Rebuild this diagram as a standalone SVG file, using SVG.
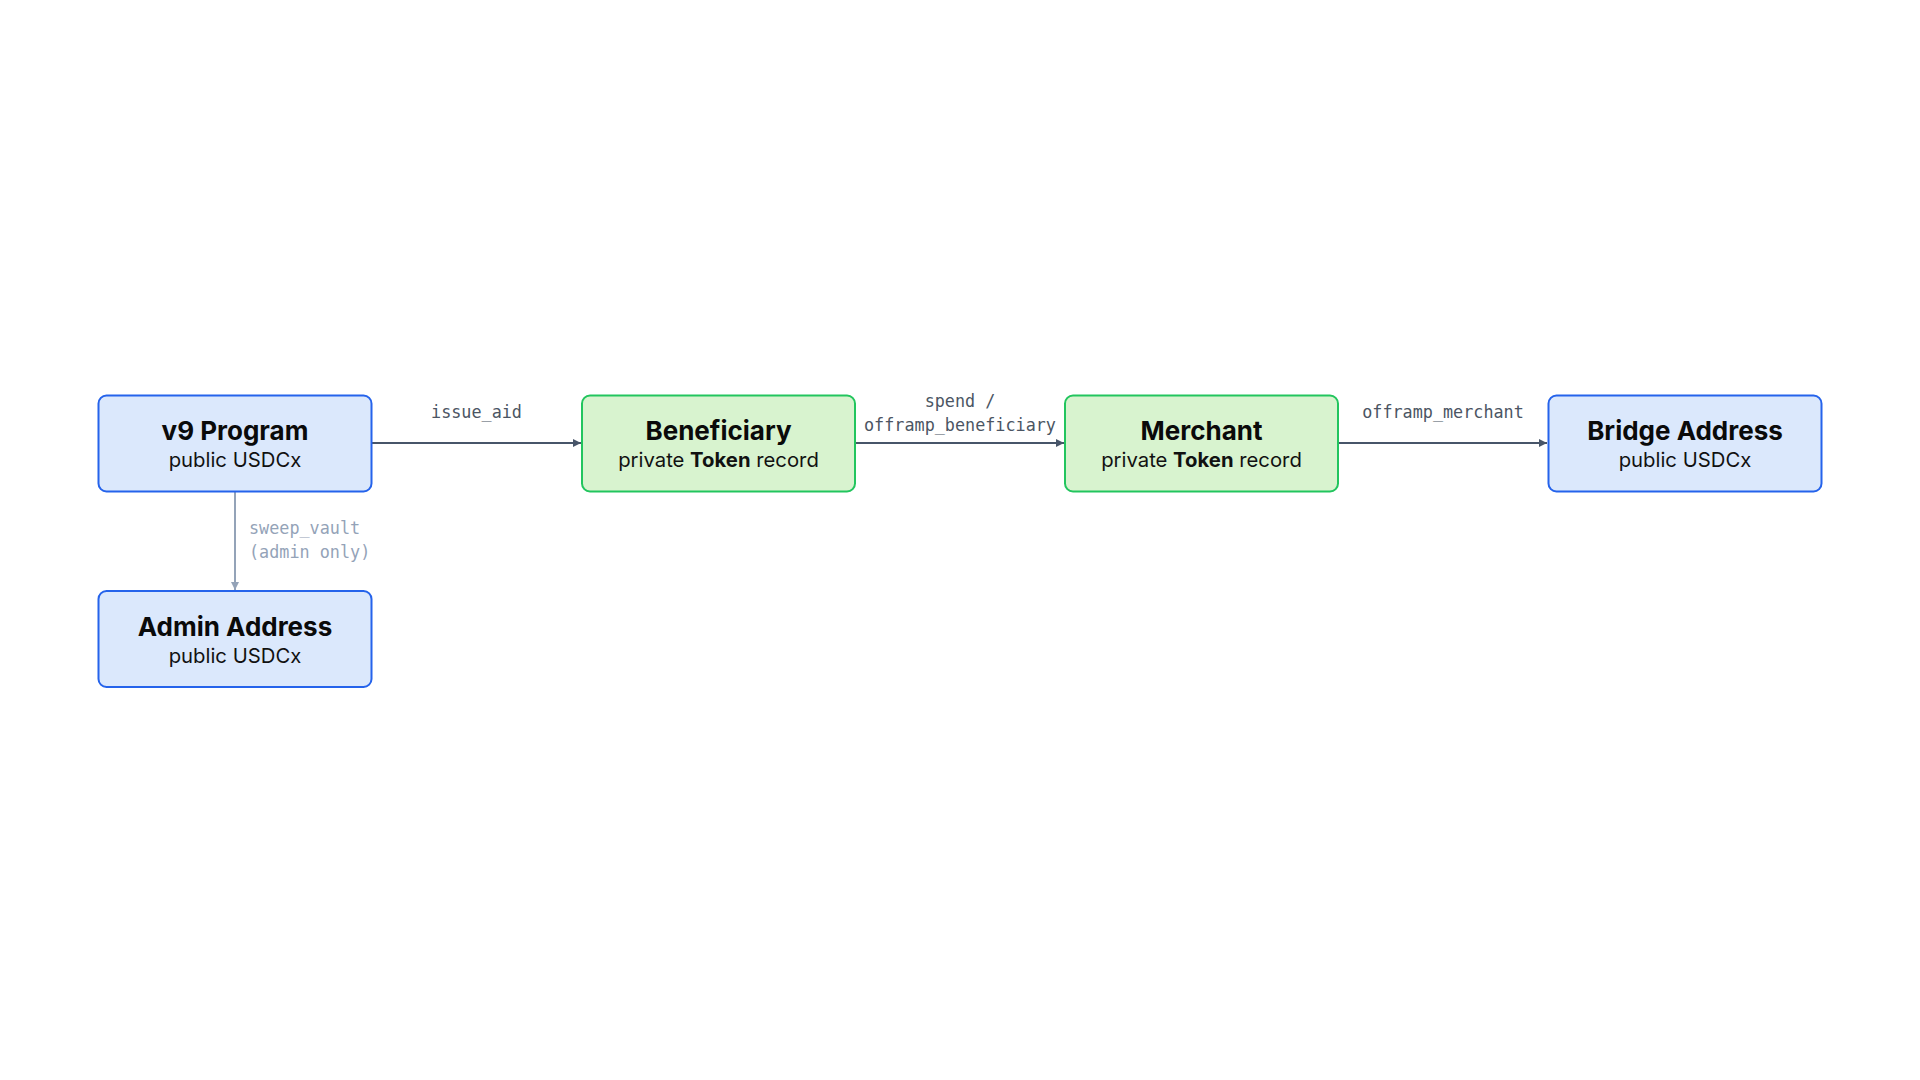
<svg xmlns="http://www.w3.org/2000/svg" width="1920" height="1080" viewBox="0 0 1920 1080">
<style>
  .blue rect { fill: #dbe8fc; stroke: #2563eb; stroke-width: 2; }
  .green rect { fill: #d8f3cf; stroke: #22c55e; stroke-width: 2; }
  .title { font-family: "Inter", "Noto Sans", "Liberation Sans", sans-serif; font-weight: 700; font-size: 26px; fill: #0a0a0a; text-anchor: middle; }
  .sub { font-family: "Inter", "Noto Sans", "Liberation Sans", sans-serif; font-size: 20.3px; fill: #111111; text-anchor: middle; }
  .sub tspan.b { font-weight: 700; }
  .lbl { font-family: "DejaVu Sans Mono", "Liberation Mono", monospace; font-size: 16.8px; fill: #4b5563; text-anchor: middle; }
  .lbl2 { font-family: "DejaVu Sans Mono", "Liberation Mono", monospace; font-size: 16.8px; fill: #94a3b8; }
  .edge { stroke: #475569; stroke-width: 2; fill: none; }
  .edge2 { stroke: #94a3b8; stroke-width: 2; fill: none; }
</style>
<defs>
  <marker id="ah" viewBox="0 0 10 10" refX="10" refY="5" markerWidth="4" markerHeight="4" orient="auto" markerUnits="strokeWidth">
    <path d="M0,0 L10,5 L0,10 z" fill="#475569"/>
  </marker>
  <marker id="ah2" viewBox="0 0 10 10" refX="10" refY="5" markerWidth="4" markerHeight="4" orient="auto" markerUnits="strokeWidth">
    <path d="M0,0 L10,5 L0,10 z" fill="#94a3b8"/>
  </marker>
</defs>
<rect width="1920" height="1080" fill="#ffffff"/>
<g id="connectors">
  <line class="edge" x1="372" y1="443" x2="581" y2="443" marker-end="url(#ah)"/>
  <text class="lbl" x="476.5" y="418">issue_aid</text>
  <line class="edge" x1="855" y1="443" x2="1064" y2="443" marker-end="url(#ah)"/>
  <text class="lbl" x="960" y="407">spend /</text>
  <text class="lbl" x="960" y="431">offramp_beneficiary</text>
  <line class="edge" x1="1338" y1="443" x2="1547" y2="443" marker-end="url(#ah)"/>
  <text class="lbl" x="1443" y="418">offramp_merchant</text>
  <line class="edge2" x1="235" y1="492" x2="235" y2="590" marker-end="url(#ah2)"/>
  <text class="lbl2" x="249" y="534">sweep_vault</text>
  <text class="lbl2" x="249" y="558">(admin only)</text>
</g>
<g id="node-v9" class="blue">
  <rect x="98.5" y="395.5" width="273" height="96" rx="8"/>
  <text class="title" x="235" y="440">v9 Program</text>
  <text class="sub" x="235" y="467">public USDCx</text>
</g>
<g id="node-beneficiary" class="green">
  <rect x="582" y="395.5" width="273" height="96" rx="8"/>
  <text class="title" x="718.5" y="440">Beneficiary</text>
  <text class="sub" x="718.5" y="467">private <tspan class="b">Token</tspan> record</text>
</g>
<g id="node-merchant" class="green">
  <rect x="1065" y="395.5" width="273" height="96" rx="8"/>
  <text class="title" x="1201.5" y="440">Merchant</text>
  <text class="sub" x="1201.5" y="467">private <tspan class="b">Token</tspan> record</text>
</g>
<g id="node-bridge" class="blue">
  <rect x="1548.5" y="395.5" width="273" height="96" rx="8"/>
  <text class="title" x="1685" y="440">Bridge Address</text>
  <text class="sub" x="1685" y="467">public USDCx</text>
</g>
<g id="node-admin" class="blue">
  <rect x="98.5" y="591" width="273" height="96" rx="8"/>
  <text class="title" x="235" y="636">Admin Address</text>
  <text class="sub" x="235" y="663">public USDCx</text>
</g>
</svg>
